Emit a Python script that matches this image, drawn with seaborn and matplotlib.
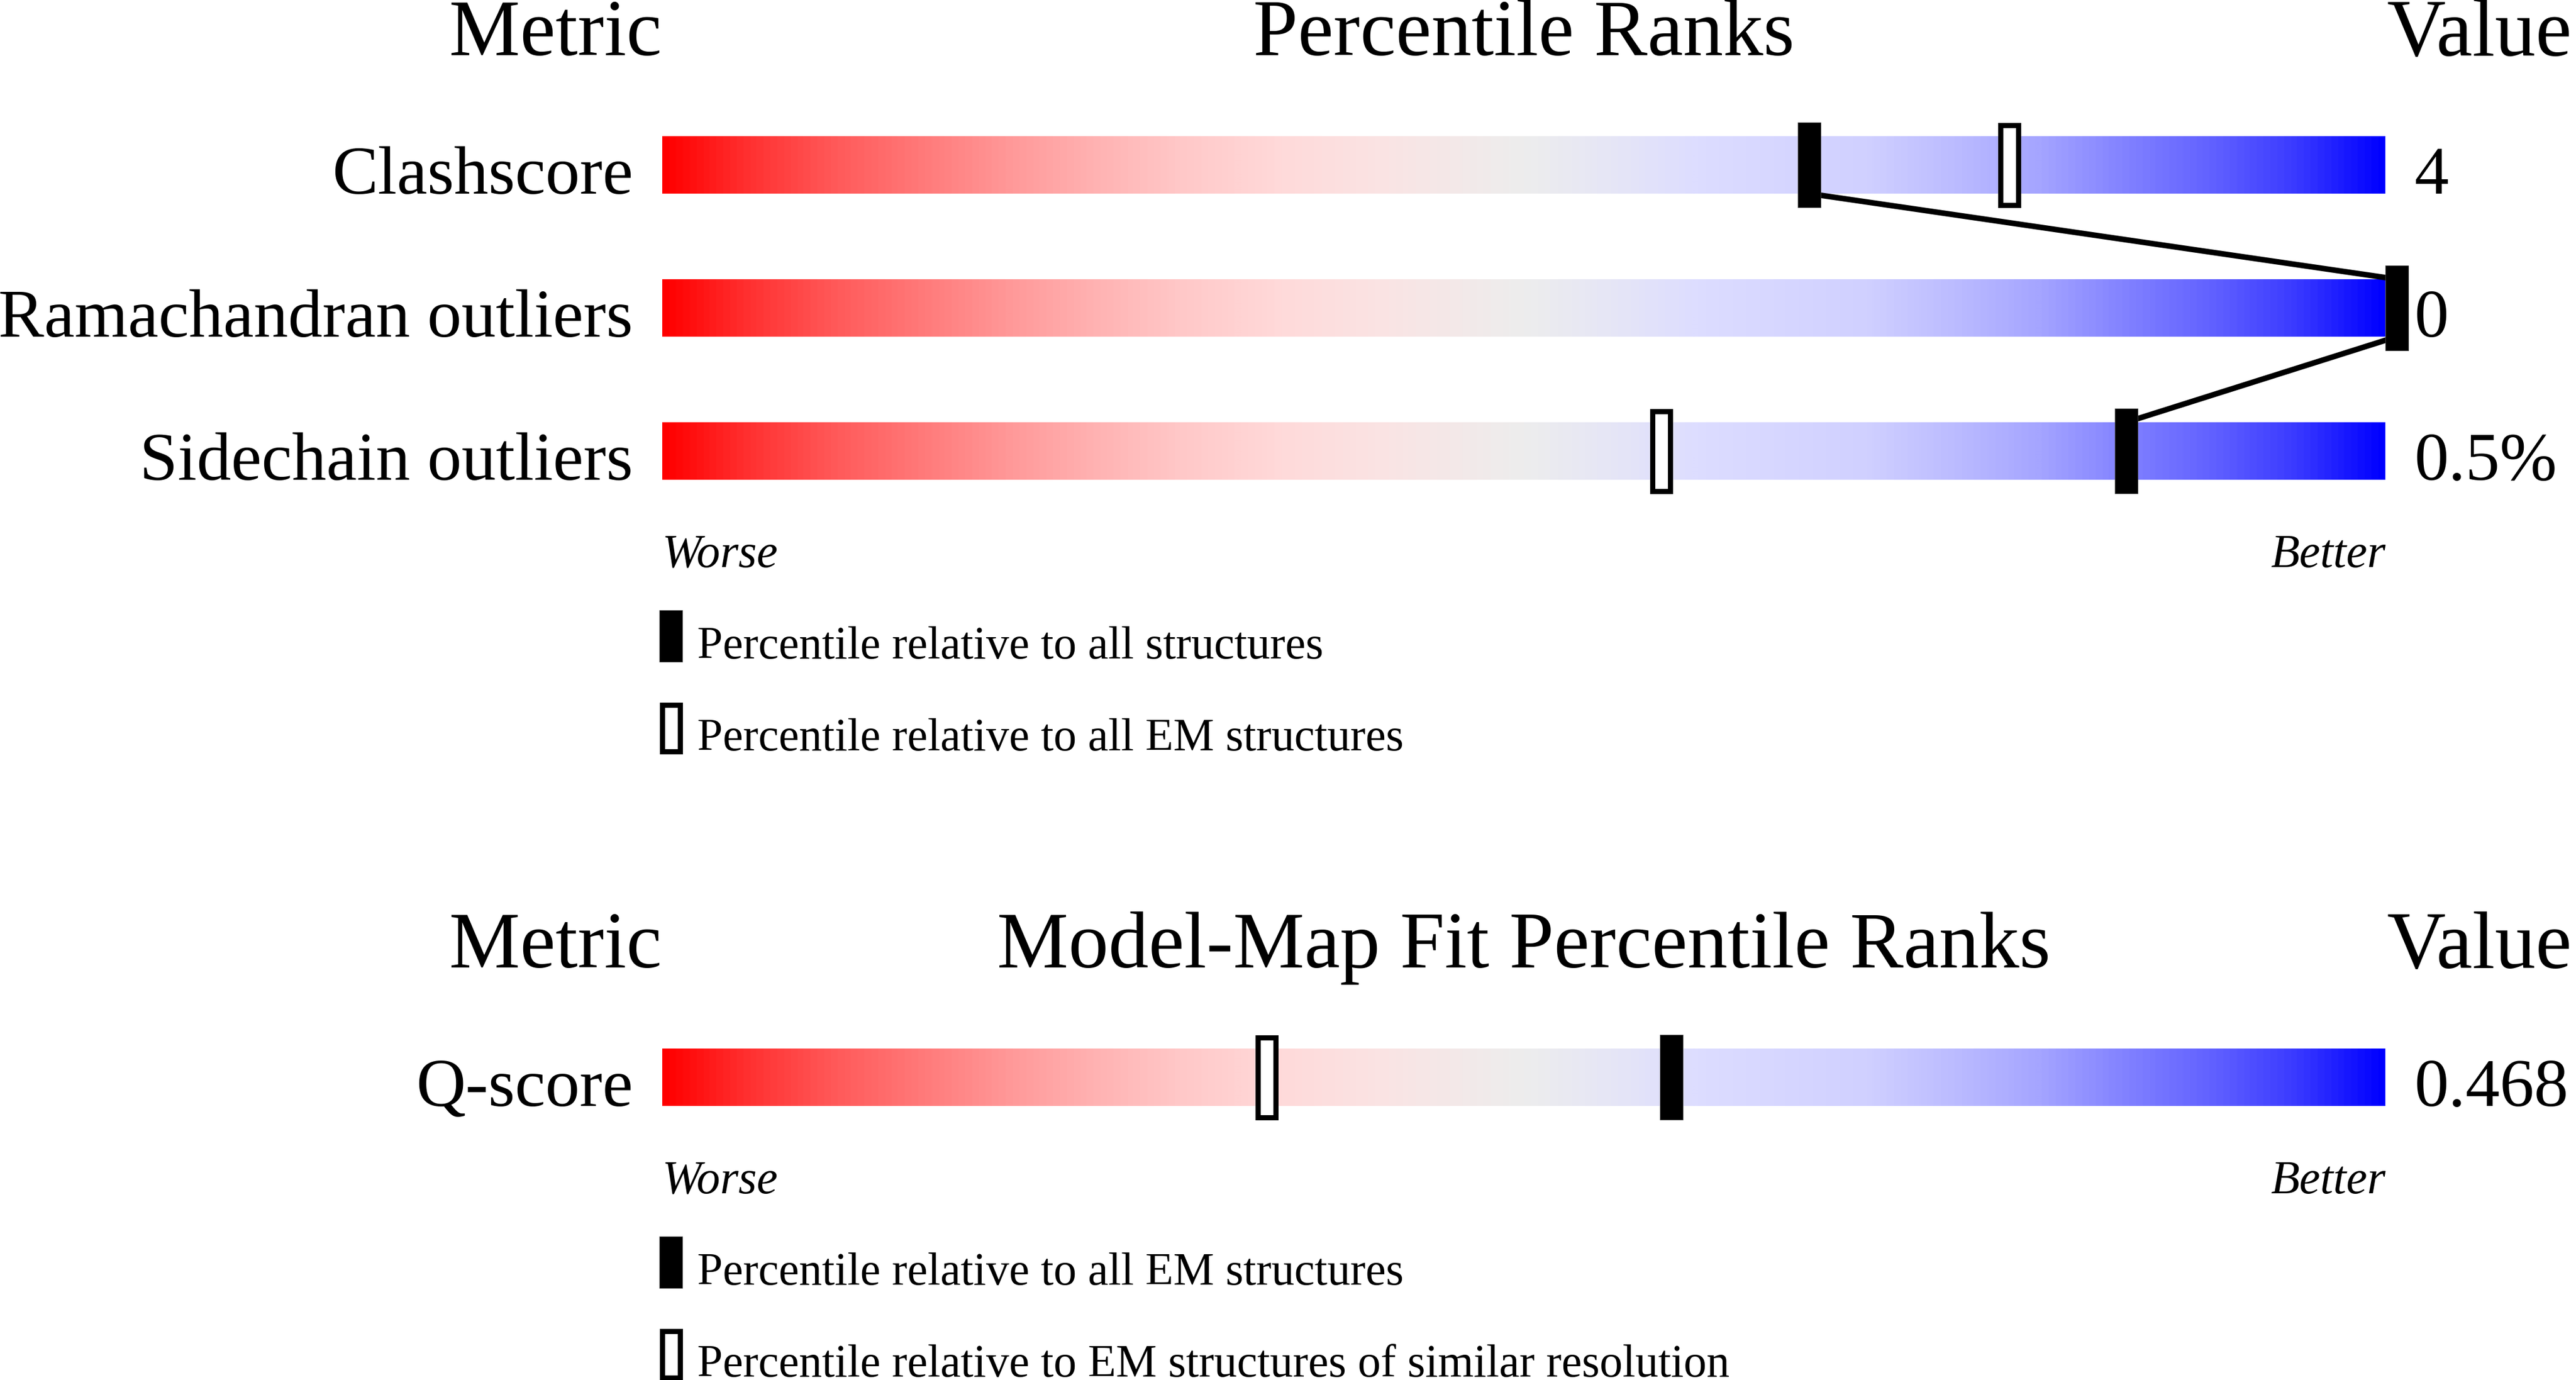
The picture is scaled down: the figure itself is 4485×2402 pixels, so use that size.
import numpy as np
import pandas as pd
import matplotlib
matplotlib.use("Agg")
import matplotlib.pyplot as plt
import seaborn as sns
from matplotlib.colors import LinearSegmentedColormap

# ---------------- data ----------------
top_metrics = ["Clashscore", "Ramachandran outliers", "Sidechain outliers"]
top_pct_all = [65.9, 100.0, 84.3]          # percentile relative to all structures
top_pct_em = [77.5, 100.0, 57.3]           # percentile relative to all EM structures
top_values = ["4", "0", "0.5%"]
top_legend = ["Percentile relative to all structures",
              "Percentile relative to all EM structures"]

fit_metrics = ["Q-score"]
fit_pct_all_em = [57.9]                    # percentile relative to all EM structures
fit_pct_similar = [34.4]                   # percentile relative to EM structures of similar resolution
fit_values = ["0.468"]
fit_legend = ["Percentile relative to all EM structures",
              "Percentile relative to EM structures of similar resolution"]

titles = [("Metric", "Percentile Ranks", "Value"),
          ("Metric", "Model-Map Fit Percentile Ranks", "Value")]

# ---------------- style ----------------
sns.set_theme(style="white")
plt.rcParams["font.family"] = ["Liberation Serif", "DejaVu Serif"]
plt.rcParams["text.color"] = "black"

W, H = 4485, 2402
BAR_L, BAR_W = 1153, 3000          # pixels
PPX = 100.0 / BAR_W                # percent per pixel
BAR_H = 100
MK_W, MK_EXT = 40, 24
HOLLOW_LW = 9

stops = [(0.00, (255, 0, 0)), (0.05, (255, 50, 50)), (0.10, (255, 90, 90)),
         (0.15, (255, 122, 122)), (0.20, (255, 152, 152)), (0.25, (255, 178, 178)),
         (0.30, (255, 200, 200)), (0.36, (255, 218, 218)), (0.42, (250, 228, 228)),
         (0.50, (237, 237, 237)), (0.55, (230, 230, 246)), (0.60, (221, 221, 255)),
         (0.70, (208, 208, 255)), (0.75, (188, 188, 255)), (0.80, (165, 165, 255)),
         (0.85, (130, 130, 255)), (0.90, (98, 98, 255)), (0.95, (58, 58, 255)),
         (1.00, (0, 0, 255))]
cmap = LinearSegmentedColormap.from_list(
    "slider", [(p, tuple(c / 255 for c in rgb)) for p, rgb in stops])
grad = np.linspace(0, 1, 1500).reshape(1, -1)

fig = plt.figure(figsize=(W / 100, H / 100), dpi=100)
ax = fig.add_axes([0, 0, 1, 1])

px = lambda p: p * PPX  # pixel distance -> percent units

def filled(x_pct, top, h, ext):
    ax.bar(x_pct, h + 2 * ext, width=px(MK_W), bottom=top - ext, align="edge",
           color="black", edgecolor="#555555", linewidth=0.5, zorder=4)

def hollow(x_pct, top, h, ext):
    ax.bar(x_pct + px(HOLLOW_LW / 2), h + 2 * ext - HOLLOW_LW, width=px(MK_W - HOLLOW_LW),
           bottom=top - ext + HOLLOW_LW / 2, align="edge", facecolor="white",
           edgecolor="black", linewidth=HOLLOW_LW * 0.72, zorder=3)

def panel(y0, ttl, metrics, pct_f, pct_h, values, legend):
    tops = [y0 + 249 * i for i in range(len(metrics))]
    hdr = y0 - 141
    ax.text(px(-1), hdr, ttl[0], ha="right", va="baseline", fontsize=100)
    ax.text(50, hdr, ttl[1], ha="center", va="baseline", fontsize=100.5)
    ax.text(100 + px(2), hdr + 1, ttl[2], ha="left", va="baseline", fontsize=102)
    for i, t in enumerate(tops):
        ax.imshow(grad, cmap=cmap, aspect="auto", extent=(0, 100, t + BAR_H, t),
                  interpolation="bilinear", zorder=1)
        ax.text(px(-51), t + BAR_H, metrics[i], ha="right", va="baseline", fontsize=86)
        ax.text(100 + px(51), t + BAR_H, values[i], ha="left", va="baseline", fontsize=86)
        hollow(pct_h[i], t, BAR_H, MK_EXT)
        filled(pct_f[i], t, BAR_H, MK_EXT)
    # connecting line between filled markers
    xs, ys = [], []
    for i, t in enumerate(tops):
        xc = pct_f[i] + px(MK_W / 2)
        if i > 0:
            xs.append(xc); ys.append(t)
        if i < len(tops) - 1:
            xs.append(xc); ys.append(t + BAR_H)
    if len(xs) > 1:
        df = pd.DataFrame({"x": xs, "y": ys})
        sns.lineplot(data=df, x="x", y="y", sort=False, estimator=None,
                     color="black", linewidth=7, ax=ax, zorder=2)
    last = tops[-1] + BAR_H
    ax.text(0, last + 152, "Worse", ha="left", va="baseline", fontsize=59, style="italic")
    ax.text(100, last + 152, "Better", ha="right", va="baseline", fontsize=59, style="italic")
    for j, lab in enumerate(legend):
        mt = last + 227 + 160 * j
        if j == 0:
            filled(px(-5), mt, 90, 0)
        else:
            hollow(px(-5), mt, 90, 0)
        ax.text(px(61), mt + 84, lab, ha="left", va="baseline", fontsize=57.5)

panel(237, titles[0], top_metrics, top_pct_all, top_pct_em, top_values, top_legend)
panel(1825, titles[1], fit_metrics, fit_pct_all_em, fit_pct_similar, fit_values, fit_legend)

ax.set_xlim(-BAR_L * PPX, (W - BAR_L) * PPX)
ax.set_ylim(H, 0)
ax.set_xlabel(""); ax.set_ylabel("")
ax.axis("off")
fig.savefig("out.png", dpi=100, facecolor="white")
